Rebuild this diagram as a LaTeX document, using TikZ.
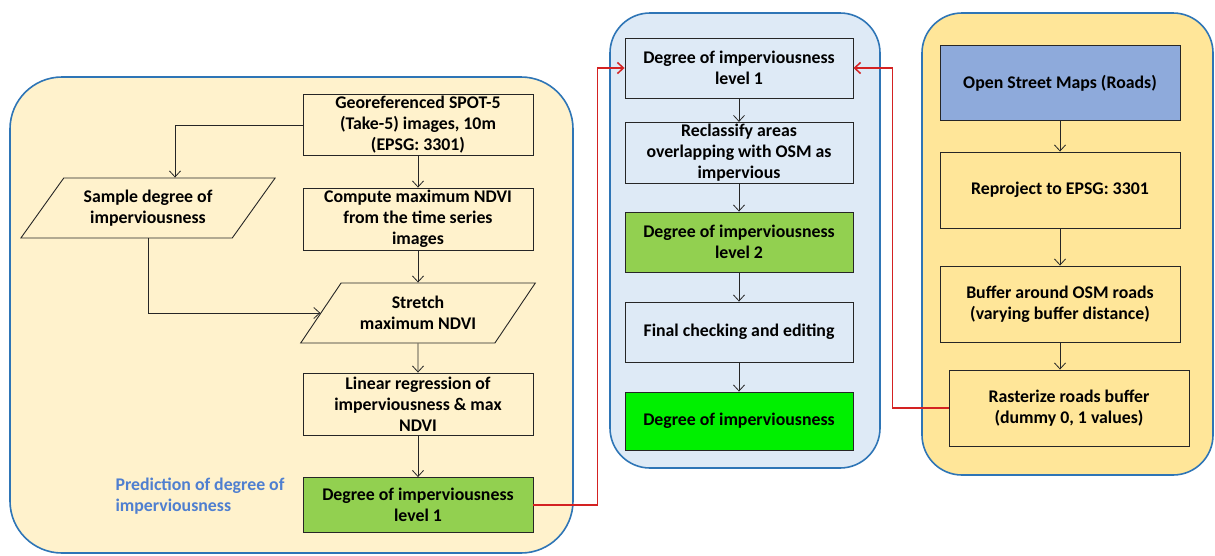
\documentclass[tikz,border=0pt]{standalone}
\usepackage{fontspec}
\setmainfont{Carlito}
\usepackage{xcolor}
\usetikzlibrary{arrows.meta,positioning,calc,shapes.geometric}
\definecolor{frame}{HTML}{2E75B6}
\definecolor{cream}{HTML}{FFF2CC}
\definecolor{skyish}{HTML}{DEEAF6}
\definecolor{butter}{HTML}{FFE699}
\definecolor{leaf}{HTML}{92D050}
\definecolor{lime}{HTML}{00F000}
\definecolor{osmblue}{HTML}{8EAADB}
\definecolor{link}{HTML}{D42222}
\definecolor{note}{HTML}{4F7FD0}
\definecolor{ink}{HTML}{262626}

\begin{document}
\begin{tikzpicture}[x=1pt,y=-1pt,>={Straight Barb[length=6pt,width=11pt]},font=\fontsize{17.8}{21}\selectfont\bfseries]
\tikzset{panel/.style={draw=frame,line width=1.6pt},box/.style={draw=ink,line width=0.9pt,align=center,minimum height=60pt,inner sep=2pt},lbox/.style={box,minimum width=230pt},mbox/.style={box,minimum width=228pt,fill=skyish},rbox/.style={box,minimum width=240pt,minimum height=76pt,fill=butter},slant/.style={box,shape=trapezium,trapezium stretches=true,trapezium left angle=50,trapezium right angle=130},arr/.style={->,line width=0.8pt,draw=ink},redarr/.style={->,line width=1.5pt,draw=link}}
\useasboundingbox (0,0) rectangle (1215,555);
% panels
\draw[panel,fill=cream,rounded corners=52pt] (10,77) rectangle (573,553);
\draw[panel,fill=skyish,rounded corners=40pt] (610,13) rectangle (880,468);
\draw[panel,fill=butter,rounded corners=40pt] (922,13) rectangle (1213,475);
% left column
\node[lbox] (geo) at (418,125) {Georeferenced SPOT-5\\(Take-5) images, 10m\\(EPSG: 3301)};
\node[lbox,minimum height=62pt] (ndvi) at (418,219) {Compute maximum NDVI\\from the time series\\images};
\node[slant,minimum width=235pt] (stretch) at (418,313) {Stretch\\maximum NDVI};
\node[slant,minimum width=255pt] (sample) at (148,208) {Sample degree of\\imperviousness};
\node[lbox,minimum height=62pt] (regr) at (418,404) {Linear regression of\\imperviousness \& max\\NDVI};
\node[lbox,minimum height=55pt,fill=leaf] (lvla) at (418,505) {Degree of imperviousness\\level 1};
\node[anchor=west,align=left,text=note] (pred) at (112,496) {Prediction of degree of\\imperviousness};
\draw[arr] (geo.west) -| ([xshift=27pt]sample.north);
\draw[arr] (geo) -- (ndvi);
\draw[arr] (ndvi) -- (stretch);
\draw[arr] (sample.south) |- (stretch);
\draw[arr] (stretch) -- (regr);
\draw[arr] (regr) -- (lvla);
% middle column
\node[mbox] (lvlb) at (739,68) {Degree of imperviousness\\level 1};
\node[mbox] (recl) at (739,153) {Reclassify areas\\overlapping with OSM as\\impervious};
\node[mbox,fill=leaf] (lvlc) at (739,242) {Degree of imperviousness\\level 2};
\node[mbox] (check) at (739,332) {Final checking and editing};
\node[mbox,minimum height=58pt,fill=lime] (final) at (739,421) {Degree of imperviousness};
\draw[arr] (lvlb) -- (recl);
\draw[arr] (recl) -- (lvlc);
\draw[arr] (lvlc) -- (check);
\draw[arr] (check) -- (final);
% right column
\node[rbox,minimum height=75pt,fill=osmblue] (osm) at (1060,83) {Open Street Maps (Roads)};
\node[rbox] (proj) at (1060,190) {Reproject to EPSG: 3301};
\node[rbox] (buff) at (1060,304) {Buffer around OSM roads\\(varying buffer distance)};
\node[rbox] (rast) at (1069,408) {Rasterize roads buffer\\(dummy 0, 1 values)};
\draw[arr] (osm) -- (proj);
\draw[arr] (proj) -- (buff);
\draw[arr] (buff.south) -- (buff.south |- rast.north);
% links between panels
\draw[redarr] (lvla.east) -- ++(64,0) |- (lvlb.west);
\draw[redarr] (rast.west) -- ++(-56,0) |- (lvlb.east);
\end{tikzpicture}
\end{document}
